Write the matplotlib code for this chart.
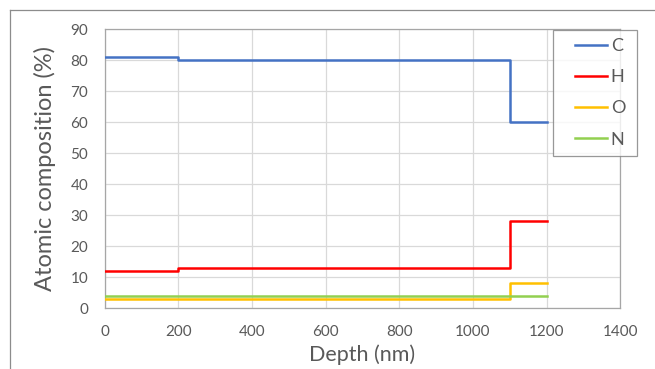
import matplotlib.pyplot as plt
from matplotlib.lines import Line2D
from matplotlib.legend_handler import HandlerLine2D

# step profiles: depth breakpoints (nm) and composition (%) from each breakpoint on
depth_c = [0, 200, 1100, 1200]
comp_c = [81, 80, 60, 60]
depth_h = [0, 200, 1100, 1200]
comp_h = [12, 13, 28, 28]
depth_o = [0, 1100, 1200]
comp_o = [3, 8, 8]
depth_n = [0, 1200]
comp_n = [4, 4]

x_ticks = [0, 200, 400, 600, 800, 1000, 1200, 1400]
y_ticks = [0, 10, 20, 30, 40, 50, 60, 70, 80, 90]

SERIES = [
    ("C", depth_c, comp_c, "#4472C4"),
    ("H", depth_h, comp_h, "#FF0000"),
    ("O", depth_o, comp_o, "#FFC000"),
    ("N", depth_n, comp_n, "#92D050"),
]

plt.rcParams["font.family"] = ["Lato", "DejaVu Sans"]
TXT = "#595959"
LW = 1.8


class PaddedLine(HandlerLine2D):
    # leave a gap before the sample line, like the spreadsheet legend
    def create_artists(self, legend, orig_handle, xdescent, ydescent, width, height, fontsize, trans):
        pad = 0.75 * fontsize
        return super().create_artists(legend, orig_handle, xdescent - pad, ydescent,
                                      width - pad, height, fontsize, trans)


fig = plt.figure(figsize=(6.55, 3.69), dpi=100)
ax = fig.add_axes([0.160, 0.165, 0.787, 0.756])

for label, xs, ys, color in SERIES:
    ax.step(xs, ys, where="post", color=color, lw=LW, label=label, zorder=3)

ax.set_xlim(0, 1400)
ax.set_ylim(0, 90)
ax.set_xticks(x_ticks)
ax.set_yticks(y_ticks)
ax.grid(True, color="#D9D9D9", lw=0.9)
ax.set_axisbelow(True)
ax.tick_params(axis="x", length=0, colors=TXT, labelsize=11, pad=12)
ax.tick_params(axis="y", length=0, colors=TXT, labelsize=11, pad=12)
for side in ax.spines.values():
    side.set_color("#A6A6A6")
    side.set_linewidth(0.9)

ax.set_xlabel("Depth (nm)", fontsize=15.5, color=TXT, labelpad=4)
ax.set_ylabel("Atomic composition (%)", fontsize=17, color=TXT, labelpad=10)

handles = [Line2D([0], [0], color=c, lw=LW) for _, _, _, c in SERIES]
leg_h = 124 / 369
leg = fig.legend(
    handles, [s[0] for s in SERIES],
    loc="upper left", mode="expand",
    bbox_to_anchor=(553 / 655, 1 - 30 / 369 - leg_h, 84 / 655, leg_h),
    frameon=True, fancybox=False, fontsize=13, labelspacing=0.84,
    handlelength=2.55, handletextpad=0.2, borderpad=0.45, borderaxespad=0,
    labelcolor=TXT, handler_map={Line2D: PaddedLine()},
)
leg.get_frame().set_edgecolor("#7F7F7F")
leg.get_frame().set_linewidth(0.9)

# outer chart border (clipped by the image edge on the right and bottom)
fig.add_artist(Line2D([10 / 655, 10 / 655], [0, 1 - 10 / 369], color="#8C8C8C", lw=0.9))
fig.add_artist(Line2D([10 / 655, 1], [1 - 10 / 369, 1 - 10 / 369], color="#8C8C8C", lw=0.9))

fig.savefig("out.png", dpi=100, facecolor="white")
